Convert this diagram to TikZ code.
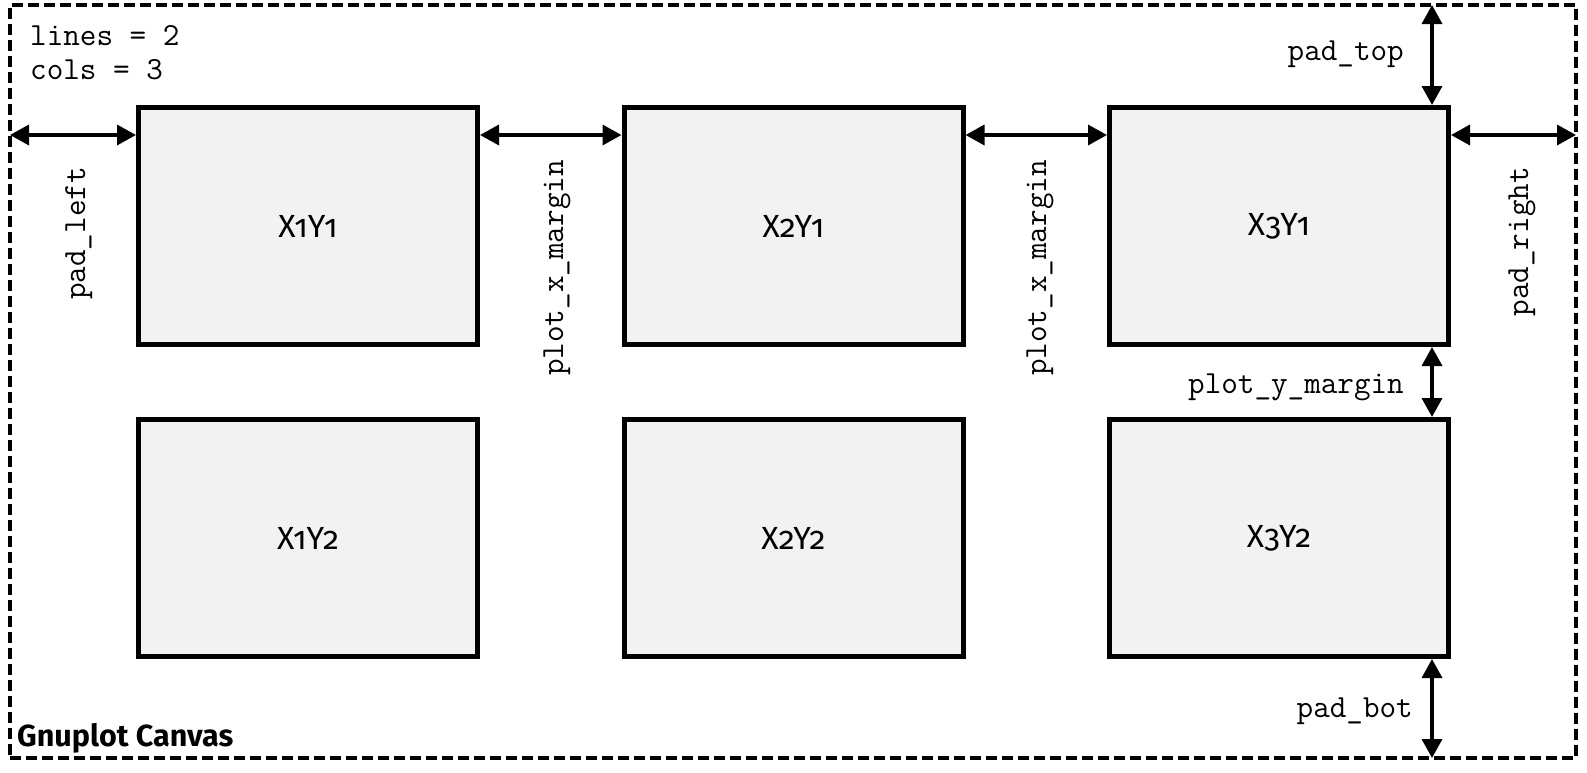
\documentclass[tikz,border=0pt]{standalone}
\usepackage{fontspec}
\setmainfont{Fira Sans}[Numbers=OldStyle]
\usetikzlibrary{arrows.meta}
\definecolor{boxfill}{HTML}{F2F2F2}
\begin{document}
\begin{tikzpicture}[x=1pt,y=-1pt,
  plotbox/.style={draw=black, line width=5pt, fill=boxfill, minimum width=339pt, minimum height=237pt,
    inner sep=0pt, font=\fontsize{32}{38}\selectfont},
  canvasbox/.style={draw=black, line width=4.5pt, dash pattern=on 11pt off 5pt, outer sep=0pt,
    minimum width=1566pt, minimum height=753pt, inner sep=0pt},
  dim/.style={line width=3.5pt, {Triangle[length=19pt,width=20pt]}-{Triangle[length=19pt,width=20pt]}},
  mono/.style={font=\ttfamily\fontsize{32.2}{36}\selectfont, inner sep=0pt, text=black},
  title/.style={font=\bfseries\fontsize{30.5}{36}\selectfont, inner sep=0pt}
]
\useasboundingbox (0,0) rectangle (1587,772);
\node[canvasbox] (canvas) at (793,381.5) {};

\node[plotbox] (x1y1) at (308,226) {X1Y1};
\node[plotbox] (x2y1) at (793.5,226) {X2Y1};
\node[plotbox] (x3y1) at (1279,226) {X3Y1};
\node[plotbox] (x1y2) at (308,538) {X1Y2};
\node[plotbox] (x2y2) at (793.5,538) {X2Y2};
\node[plotbox] (x3y2) at (1279,538) {X3Y2};

% reference coordinates
\coordinate (hrow) at (0,135);
\coordinate (vcol) at (1432,0);

% horizontal dimension arrows
\draw[dim] (canvas.west |- hrow) -- (x1y1.west |- hrow);
\draw[dim] (x1y1.east |- hrow) -- (x2y1.west |- hrow);
\draw[dim] (x2y1.east |- hrow) -- (x3y1.west |- hrow);
\draw[dim] (x3y1.east |- hrow) -- (canvas.east |- hrow);

% vertical dimension arrows
\draw[dim] (canvas.north -| vcol) -- (x3y1.north -| vcol);
\draw[dim] (x3y1.south -| vcol) -- (x3y2.north -| vcol);
\draw[dim] (x3y2.south -| vcol) -- (canvas.south -| vcol);

% labels
\node[mono, anchor=base west] (lines) at (30,45) {lines = 2};
\node[mono, anchor=base west] (cols) at (30,79) {cols = 3};
\node[mono, anchor=base east, rotate=90] (padleft) at (85,167) {pad\_left};
\node[mono, anchor=base east, rotate=90] (xmarg1) at (563,160) {plot\_x\_margin};
\node[mono, anchor=base east, rotate=90] (xmarg2) at (1046,160) {plot\_x\_margin};
\node[mono, anchor=base east, rotate=90] (padright) at (1528,167) {pad\_right};
\node[mono, anchor=base east] (padtop) at (1404,60) {pad\_top};
\node[mono, anchor=base east] (ymarg) at (1404,393) {plot\_y\_margin};
\node[mono, anchor=base east] (padbot) at (1413,717) {pad\_bot};
\node[title, anchor=base west] (gnuplot) at (17,746) {Gnuplot Canvas};
\end{tikzpicture}
\end{document}
